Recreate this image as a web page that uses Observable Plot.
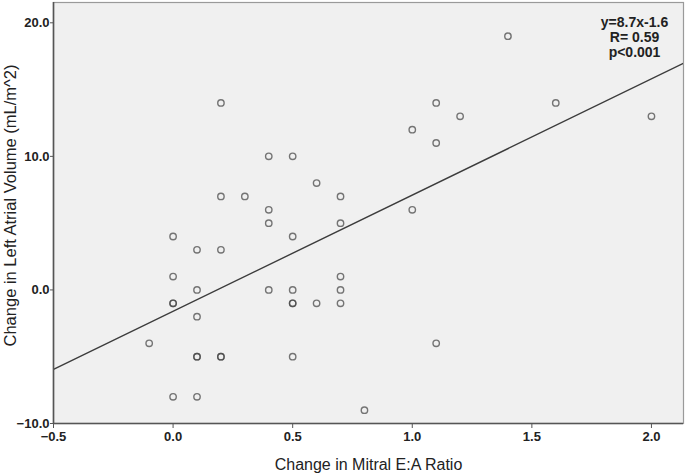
<!DOCTYPE html>
<html>
<head>
<meta charset="utf-8">
<script src="https://cdn.jsdelivr.net/npm/d3@7"></script>
<script src="https://cdn.jsdelivr.net/npm/@observablehq/plot@0.6"></script>
<style>
  html, body { margin: 0; padding: 0; background: #fff; }
  #chart { width: 685px; height: 473px; }
</style>
</head>
<body>
<div id="chart"></div>
<script>
// Data
const eaChange = [1.4, 0.2, 1.1, 1.6, 1.2, 2.0, 1.0, 1.1, 0.4, 0.5, 0.6, 0.2, 0.3, 0.7, 0.4, 1.0, 0.4, 0.7,
  0.0, 0.5, 0.1, 0.2, 0.0, 0.7, 0.1, 0.4, 0.5, 0.7, 0.0, 0.0, 0.5, 0.5, 0.6, 0.7, 0.1, -0.1, 1.1,
  0.1, 0.1, 0.2, 0.2, 0.5, 0.0, 0.1, 0.8];
const laChange = [19, 14, 14, 14, 13, 13, 12, 11, 10, 10, 8, 7, 7, 7, 6, 6, 5, 5,
  4, 4, 3, 3, 1, 1, 0, 0, 0, 0, -1, -1, -1, -1, -1, -1, -2, -4, -4,
  -5, -5, -5, -5, -5, -8, -8, -9];
const slope = 8.7;
const intercept = -1.6;
const annotation = ["y=8.7x-1.6", "R= 0.59", "p<0.001"];
const xTicks = [-0.5, 0.0, 0.5, 1.0, 1.5, 2.0];
const yTicks = [-10, 0, 10, 20];
const xDomain = [-0.5, 2.134];
const yDomain = [-10, 21.52];
const xTitle = "Change in Mitral E:A Ratio";
const yTitle = "Change in Left Atrial Volume (mL/m^2)";

const points = eaChange.map((x, i) => ({x, y: laChange[i]}));
const fitLine = xDomain.map(x => ({x, y: slope * x + intercept}));
const font = "Liberation Sans, Arial, Helvetica, sans-serif";
const fmt = d3.format(".1f");

const chart = Plot.plot({
  width: 685,
  height: 473,
  marginLeft: 53,
  marginRight: 2,
  marginTop: 2,
  marginBottom: 50,
  style: {fontFamily: font, background: "#fff", overflow: "visible"},
  x: {domain: xDomain, ticks: xTicks, tickFormat: fmt, label: null},
  y: {domain: yDomain, ticks: yTicks, tickFormat: fmt, label: null},
  marks: [
    Plot.frame({fill: "#f0f0f0", stroke: "#9a9a9a", strokeWidth: 1.2}),
    Plot.line(fitLine, {x: "x", y: "y", stroke: "#3c3c3c", strokeWidth: 1.4, clip: true}),
    Plot.dot(points, {x: "x", y: "y", r: 3.2, stroke: "#444", strokeOpacity: 0.72, strokeWidth: 1.4, fill: "none"}),
    Plot.ruleX([xDomain[0]], {stroke: "#555", strokeWidth: 1.6}),
    Plot.ruleY([yDomain[0]], {stroke: "#555", strokeWidth: 1.6}),
    Plot.axisX({ticks: xTicks, tickFormat: fmt, tickSize: 5, tickPadding: 3, fontSize: 13, fontWeight: "bold", fill: "#222", stroke: "#555", label: null}),
    Plot.axisY({ticks: yTicks, tickFormat: fmt, tickSize: 3, tickPadding: 1, fontSize: 13, fontWeight: "bold", fill: "#222", stroke: "#555", label: null}),
    Plot.text([annotation.join("\n")], {frameAnchor: "top-right", dx: -49, dy: 35, textAnchor: "middle", lineAnchor: "middle", lineHeight: 1.08, fontSize: 14, fontWeight: "bold", fill: "#222"}),
    Plot.text([xTitle], {frameAnchor: "bottom", dy: 41, textAnchor: "middle", lineAnchor: "middle", fontSize: 16, fill: "#222"}),
    Plot.text([yTitle], {frameAnchor: "left", dx: -43, dy: -7.5, rotate: -90, textAnchor: "middle", lineAnchor: "middle", fontSize: 16.5, fill: "#222"})
  ]
});
document.getElementById("chart").appendChild(chart);
</script>
</body>
</html>
